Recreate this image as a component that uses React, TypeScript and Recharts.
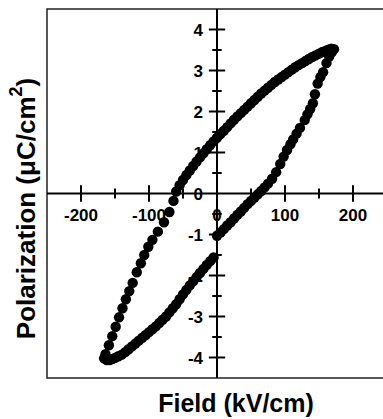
import React from "react";
import {
  ScatterChart,
  Scatter,
  XAxis,
  YAxis,
  ReferenceLine,
  ReferenceDot,
  ReferenceArea,
} from "recharts";

// descending branch, from +Emax round to -Emax
const upperField = [
  172, 168, 164, 160, 155, 150, 145, 140, 135, 130, 125, 120, 115, 110, 105,
  100, 95, 90, 85, 80, 75, 70, 65, 60, 55, 50, 45, 40, 35, 30, 25, 20, 15, 10,
  5, 0, -5, -10, -15, -20, -25, -30, -35, -40, -45, -50, -55, -60, -64, -70,
  -78, -87, -95, -101, -107, -112, -118, -124, -129, -134, -139, -144, -149,
  -154, -159, -164,
];
const upperPol = [
  3.52, 3.53, 3.51, 3.48, 3.45, 3.41, 3.37, 3.33, 3.28, 3.23, 3.18, 3.13, 3.08,
  3.02, 2.96, 2.9, 2.84, 2.78, 2.72, 2.65, 2.58, 2.51, 2.44, 2.36, 2.28, 2.2,
  2.12, 2.04, 1.96, 1.88, 1.8, 1.71, 1.62, 1.53, 1.45, 1.36, 1.27, 1.18, 1.08,
  0.98, 0.88, 0.78, 0.67, 0.56, 0.45, 0.33, 0.2, 0.05, -0.18, -0.45, -0.7,
  -0.93, -1.13, -1.3, -1.5, -1.7, -1.92, -2.18, -2.38, -2.58, -2.8, -3.02,
  -3.25, -3.48, -3.7, -3.92,
];

// ascending branch, from -Emax back up to +Emax
const lowerField = [
  -166, -162, -158, -154, -150, -145, -140, -135, -130, -125, -120, -115, -110,
  -105, -100, -95, -90, -85, -80, -75, -70, -65, -60, -55, -50, -45, -40, -35,
  -30, -25, -20, -15, -10, -5, 0, 5, 10, 15, 20, 25, 30, 35, 40, 45, 50, 55,
  60, 65, 70, 75, 81, 87, 93, 98, 103, 108, 112, 117, 122, 129, 133, 137, 141,
  144, 148, 152, 156, 161, 165, 169,
];
const lowerPol = [
  -4.02, -4.06, -4.06, -4.04, -4.01, -3.97, -3.93, -3.87, -3.8, -3.73, -3.66,
  -3.59, -3.52, -3.45, -3.38, -3.31, -3.24, -3.16, -3.08, -3.0, -2.9, -2.8,
  -2.7, -2.58, -2.46, -2.35, -2.24, -2.14, -2.04, -1.94, -1.84, -1.74, -1.65,
  -1.56, -1.03, -0.95, -0.87, -0.78, -0.7, -0.61, -0.52, -0.44, -0.35, -0.26,
  -0.18, -0.1, -0.02, 0.06, 0.15, 0.24, 0.36, 0.52, 0.72, 0.9, 1.06, 1.2,
  1.32, 1.46, 1.6, 1.79, 1.93, 2.06, 2.2, 2.42, 2.68, 2.84, 2.96, 3.18, 3.34,
  3.45,
];

const xMajor = [-200, -100, 100, 200];
const xMinor = [-150, -50, 50, 150];
const yMajor = [-4, -3, -2, -1, 1, 2, 3, 4];
const yMinor = [-3.5, -2.5, -1.5, -0.5, 0.5, 1.5, 2.5, 3.5];
const xLabels = [-200, -100, 0, 100, 200];
const yLabels = [4, 3, 2, 1, 0, -1, -2, -3, -4];

const loop = [
  ...upperField.map((x, i) => ({ x, y: upperPol[i] })),
  ...lowerField.map((x, i) => ({ x, y: lowerPol[i] })),
];

const Dot = (p: any) => <circle cx={p.cx} cy={p.cy} r={5.2} fill="#000" />;

const XTitle = ({ viewBox }: any) => (
  <text
    x={viewBox.x + viewBox.width / 2 + 19}
    y={viewBox.y + viewBox.height - 7}
    textAnchor="middle"
    fontSize={25}
    fontWeight="bold"
    fill="#000"
  >
    Field (kV/cm)
  </text>
);

const YTitle = ({ viewBox }: any) => {
  const cx = 26;
  const cy = viewBox.y + viewBox.height / 2 + 15;
  return (
    <text
      x={cx}
      y={cy}
      transform={`rotate(-90 ${cx} ${cy})`}
      textAnchor="middle"
      dominantBaseline="central"
      fontSize={26}
      fontWeight="bold"
      fill="#000"
    >
      Polarization (μC/cm
      <tspan dy={-10} fontSize={18}>
        2
      </tspan>
      <tspan dy={10}>)</tspan>
    </text>
  );
};

const tickStyle = { fontSize: 17, fontWeight: "bold", fill: "#000" };

export default function App() {
  return (
    <div
      style={{
        position: "absolute",
        left: 0,
        top: 0,
        width: 383,
        height: 419,
        overflow: "hidden",
        background: "#fff",
        fontFamily: "'Liberation Sans', Arial, sans-serif",
      }}
    >
      <ScatterChart
        width={400}
        height={419}
        margin={{ top: 9, right: 13, bottom: 0, left: 0 }}
      >
        <XAxis
          type="number"
          dataKey="x"
          domain={[-250, 250]}
          ticks={[]}
          tick={false}
          axisLine={false}
          tickLine={false}
          height={41}
          label={<XTitle />}
        />
        <YAxis
          type="number"
          dataKey="y"
          domain={[-4.5, 4.5]}
          ticks={[]}
          tick={false}
          axisLine={false}
          tickLine={false}
          width={47}
          label={<YTitle />}
        />
        <ReferenceArea
          x1={-250}
          x2={250}
          y1={-4.5}
          y2={4.5}
          fill="none"
          stroke="#222"
          strokeWidth={1.5}
          fillOpacity={0}
        />
        <ReferenceLine x={0} stroke="#000" strokeWidth={2} />
        <ReferenceLine y={0} stroke="#000" strokeWidth={2} />
        {xMajor.map((v) => (
          <ReferenceLine
            key={"xM" + v}
            segment={[
              { x: v, y: -0.2 },
              { x: v, y: 0.2 },
            ]}
            stroke="#000"
            strokeWidth={2}
          />
        ))}
        {xMinor.map((v) => (
          <ReferenceLine
            key={"xm" + v}
            segment={[
              { x: v, y: -0.12 },
              { x: v, y: 0.12 },
            ]}
            stroke="#000"
            strokeWidth={2}
          />
        ))}
        {yMajor.map((v) => (
          <ReferenceLine
            key={"yM" + v}
            segment={[
              { x: -12, y: v },
              { x: 12, y: v },
            ]}
            stroke="#000"
            strokeWidth={2}
          />
        ))}
        {yMinor.map((v) => (
          <ReferenceLine
            key={"ym" + v}
            segment={[
              { x: -7, y: v },
              { x: 7, y: v },
            ]}
            stroke="#000"
            strokeWidth={2}
          />
        ))}
        {xLabels.map((v) => (
          <ReferenceDot
            key={"xl" + v}
            x={v}
            y={0}
            r={0}
            fill="none"
            stroke="none"
            label={{ value: String(v), position: "bottom", offset: 15, ...tickStyle }}
          />
        ))}
        {yLabels.map((v) => (
          <ReferenceDot
            key={"yl" + v}
            x={0}
            y={v}
            r={0}
            fill="none"
            stroke="none"
            label={{ value: String(v), position: "left", offset: 14, ...tickStyle }}
          />
        ))}
        <Scatter data={loop} shape={Dot} isAnimationActive={false} zIndex={3000} />
      </ScatterChart>
    </div>
  );
}
